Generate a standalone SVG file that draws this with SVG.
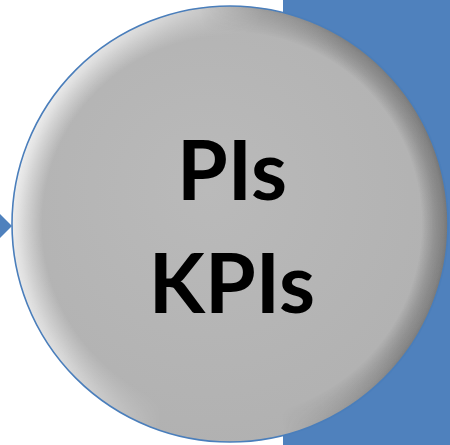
<svg xmlns="http://www.w3.org/2000/svg" width="450" height="445" viewBox="0 0 450 445">
  <style>
    .panel { fill: #4f81bd; }
    .disc-base { fill: url(#discFill); stroke: none; }
    .disc-outline { fill: none; stroke: #4a7ebb; stroke-width: 1.6; }
    .label { font-family: "Lato", "Open Sans", "Liberation Sans", sans-serif; font-weight: 700; font-size: 82px; fill: #000; text-anchor: middle; }
    .arrow { fill: #4f81bd; }
  </style>
  <defs>
    <radialGradient id="discFill" cx="0.45" cy="0.42" r="0.6">
      <stop offset="0" stop-color="#bababa"/>
      <stop offset="1" stop-color="#b1b1b1"/>
    </radialGradient>
    <!-- bright bevel on the left of the disc -->
    <radialGradient id="rimLight" cx="0.5" cy="0.5" r="0.5">
      <stop offset="0.86" stop-color="#ffffff" stop-opacity="0"/>
      <stop offset="0.97" stop-color="#ffffff" stop-opacity="0.75"/>
      <stop offset="1" stop-color="#ffffff" stop-opacity="0.9"/>
    </radialGradient>
    <!-- shadowed bevel on the right of the disc -->
    <radialGradient id="rimDark" cx="0.5" cy="0.5" r="0.5">
      <stop offset="0.88" stop-color="#000000" stop-opacity="0"/>
      <stop offset="0.98" stop-color="#303030" stop-opacity="0.4"/>
      <stop offset="1" stop-color="#303030" stop-opacity="0.5"/>
    </radialGradient>
    <linearGradient id="leftFade" x1="0" y1="0" x2="1" y2="0.25">
      <stop offset="0" stop-color="#fff" stop-opacity="1"/>
      <stop offset="0.3" stop-color="#fff" stop-opacity="0.6"/>
      <stop offset="0.55" stop-color="#fff" stop-opacity="0"/>
    </linearGradient>
    <linearGradient id="rightFade" x1="0" y1="0.2" x2="1" y2="0">
      <stop offset="0.45" stop-color="#fff" stop-opacity="0"/>
      <stop offset="0.75" stop-color="#fff" stop-opacity="0.8"/>
      <stop offset="1" stop-color="#fff" stop-opacity="1"/>
    </linearGradient>
    <mask id="leftMask" maskUnits="userSpaceOnUse" x="0" y="0" width="450" height="445">
      <rect x="12" y="6" width="436" height="436" fill="url(#leftFade)"/>
    </mask>
    <mask id="rightMask" maskUnits="userSpaceOnUse" x="0" y="0" width="450" height="445">
      <rect x="12" y="6" width="436" height="436" fill="url(#rightFade)"/>
    </mask>
  </defs>

  <rect width="450" height="445" fill="#ffffff"/>

  <!-- blue backdrop panel at the right -->
  <g id="backdrop">
    <rect class="panel" x="283" y="0" width="167" height="445"/>
  </g>

  <g id="connectors">
    <polygon class="arrow" points="0,214 12,226 0,238"/>
  </g>

  <g id="kpi-circle">
    <circle class="disc-base" cx="230" cy="224" r="218"/>
    <circle cx="230" cy="224" r="218" fill="url(#rimLight)" mask="url(#leftMask)"/>
    <circle cx="230" cy="224" r="218" fill="url(#rimDark)" mask="url(#rightMask)"/>
    <circle class="disc-outline" cx="230" cy="224" r="218"/>
    <text class="label" x="232" y="200">PIs</text>
    <text class="label" x="232" y="313">KPIs</text>
  </g>
</svg>
